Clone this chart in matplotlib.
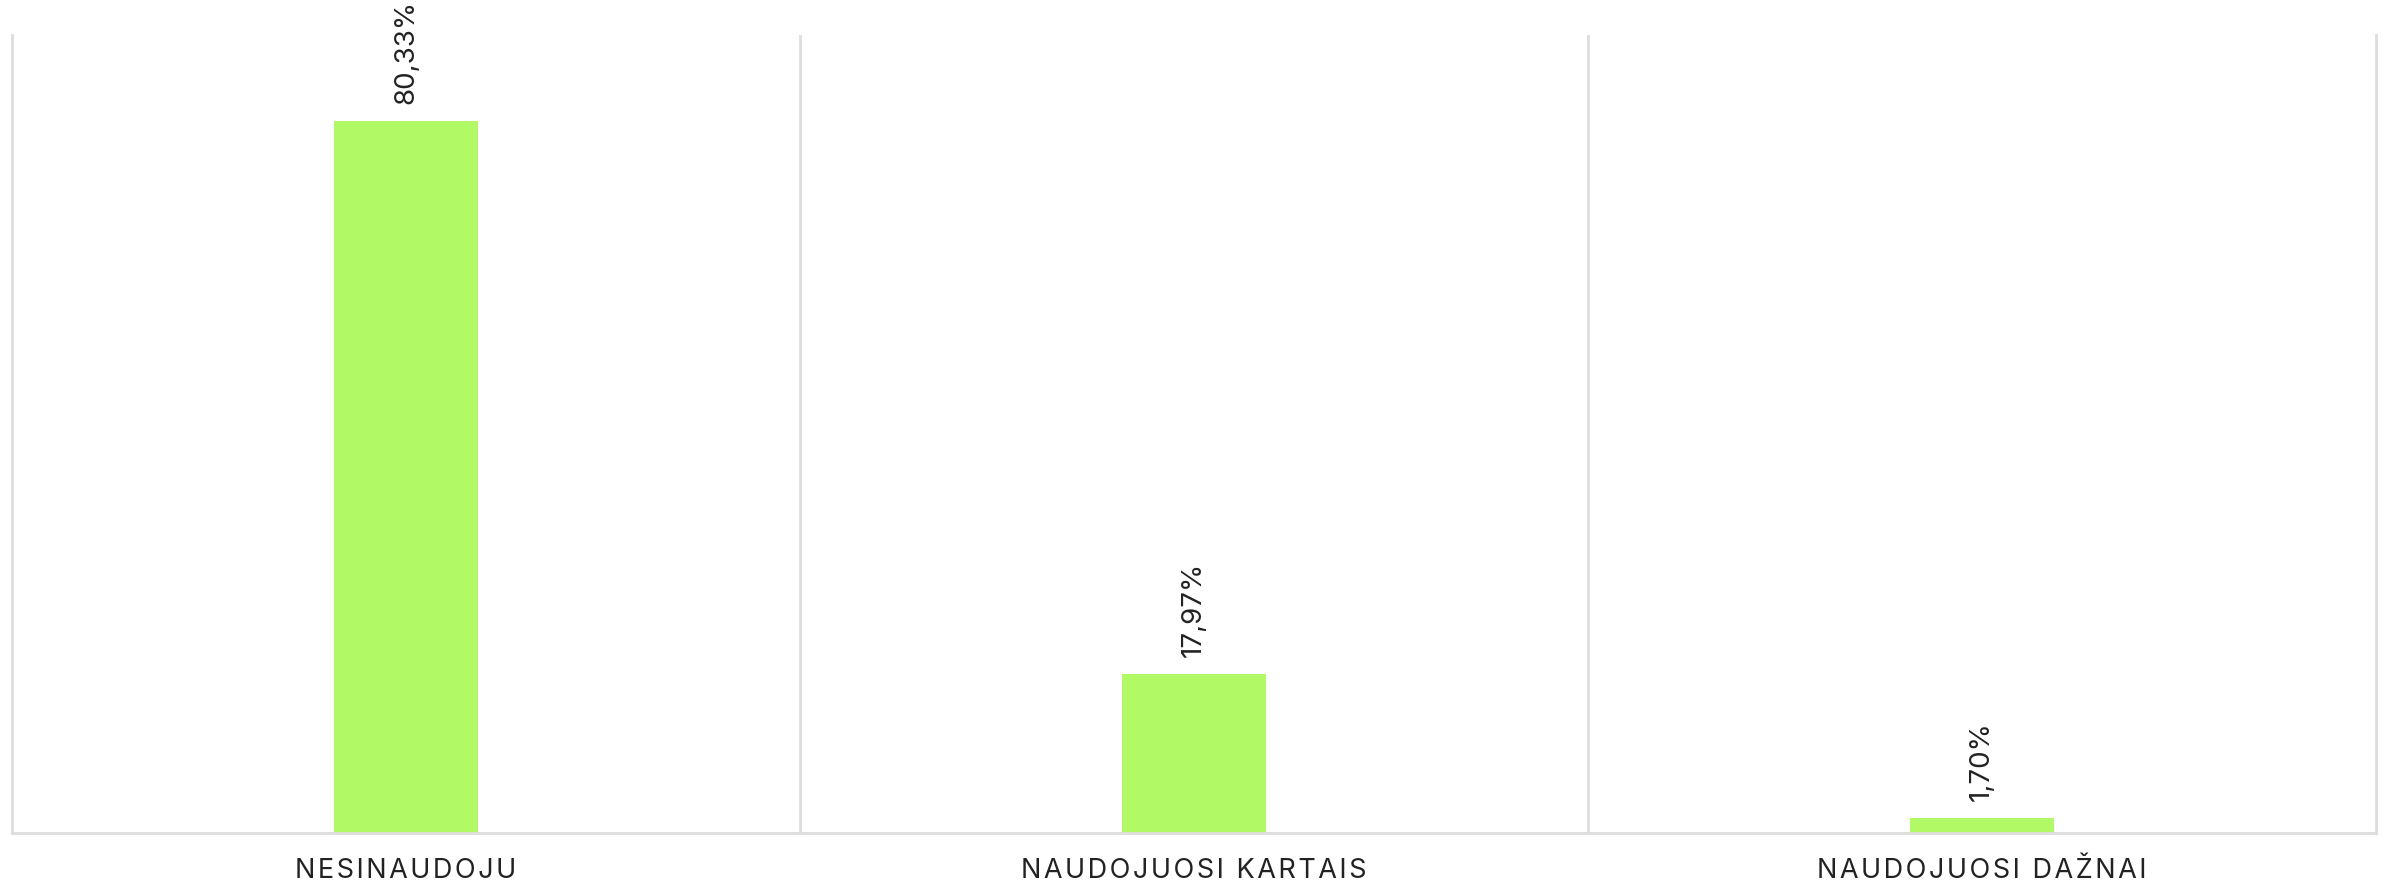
import matplotlib.pyplot as plt
import numpy as np

# data
categories = ["NESINAUDOJU", "NAUDOJUOSI KARTAIS", "NAUDOJUOSI DAŽNAI"]
values = [80.33, 17.97, 1.70]
value_labels = ["80,33%", "17,97%", "1,70%"]

bar_color = "#b2f966"
grid_color = "#dddddd"
text_color = "#222222"

fig = plt.figure(figsize=(23.89, 8.84), dpi=100)
ax = fig.add_axes([12 / 2389, 51 / 884, 2364 / 2389, 798 / 884])

x = np.arange(len(categories))
bars = ax.bar(x, values, width=0.184, color=bar_color, zorder=2)

ax.set_xlim(-0.5, len(categories) - 0.5)
ax.set_ylim(0, 90)

# value labels, rotated
for rect, lab in zip(bars, value_labels):
    ax.annotate(lab, (rect.get_x() + rect.get_width() / 2, rect.get_height()),
                xytext=(0, 12), textcoords="offset points",
                rotation=90, ha="center", va="bottom",
                fontsize=20, color=text_color, family=["Inter", "DejaVu Sans"])

# tick labels with wide letter spacing
spaced = ["\u200a".join(c) for c in categories]
ax.set_xticks(x)
ax.set_xticklabels(spaced, fontsize=19.5, color=text_color,
                   family=["Inter", "DejaVu Sans"])
ax.tick_params(axis="x", length=0, pad=18)
ax.set_yticks([])

# vertical separators between categories
ax.set_xticks(np.arange(0.5, len(categories) - 0.5, 1), minor=True)
ax.tick_params(axis="x", which="minor", length=0)
ax.grid(axis="x", which="minor", color=grid_color, linewidth=2, zorder=0)

for side in ["left", "right", "bottom"]:
    ax.spines[side].set_color(grid_color)
    ax.spines[side].set_linewidth(2)
ax.spines["top"].set_visible(False)

fig.savefig("out.png", dpi=100)
